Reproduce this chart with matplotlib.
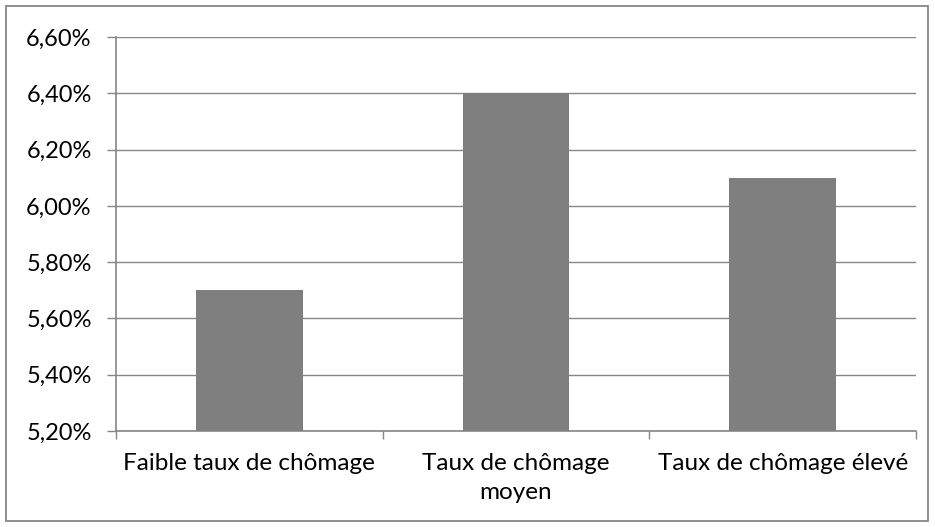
import matplotlib
matplotlib.use("Agg")
import matplotlib.pyplot as plt
from matplotlib.patches import Rectangle
from matplotlib.ticker import FuncFormatter, MultipleLocator

categories = ["Faible taux de chômage", "Taux de chômage\nmoyen", "Taux de chômage élevé"]
values = [5.70, 6.40, 6.10]

plt.rcParams['font.family'] = ['Lato', 'DejaVu Sans']

fig = plt.figure(figsize=(9.35, 5.27), dpi=100)
ax = fig.add_axes([116/935, 1 - 431/527, 800/935, 394/527])

grid_c = '#868686'
x = list(range(len(categories)))
ax.bar(x, values, width=0.4, color='#7f7f7f', zorder=3)
ax.set_xlim(-0.5, len(categories) - 0.5)
ax.set_ylim(5.20, 6.60)
ax.yaxis.set_major_locator(MultipleLocator(0.20))
ax.yaxis.set_major_formatter(FuncFormatter(lambda v, p: f"{v:.2f}%".replace('.', ',')))
ax.grid(axis='y', color=grid_c, linewidth=1, zorder=0)
ax.set_axisbelow(True)

ax.set_xticks([i - 0.5 for i in range(len(categories) + 1)], minor=False)
ax.set_xticklabels([])
ax.set_xticks(x, minor=True)
ax.set_xticklabels(categories, minor=True, linespacing=1.45)
ax.tick_params(axis='x', which='minor', length=0, pad=16, labelsize=17.5, labelcolor='#000000')
ax.tick_params(axis='x', which='major', length=6, width=1, color=grid_c, direction='out')
ax.tick_params(axis='y', length=6.5, width=1, color=grid_c, labelsize=17, pad=11)

for s in ['top', 'right']:
    ax.spines[s].set_visible(False)
for s in ['left', 'bottom']:
    ax.spines[s].set_color(grid_c)
    ax.spines[s].set_linewidth(1.2)

fig.patches.append(Rectangle((6/935, 1 - 521/527), 922/935, 515/527, transform=fig.transFigure,
                             fill=False, edgecolor='#878787', linewidth=1.3))

fig.savefig("out.png", dpi=100)
